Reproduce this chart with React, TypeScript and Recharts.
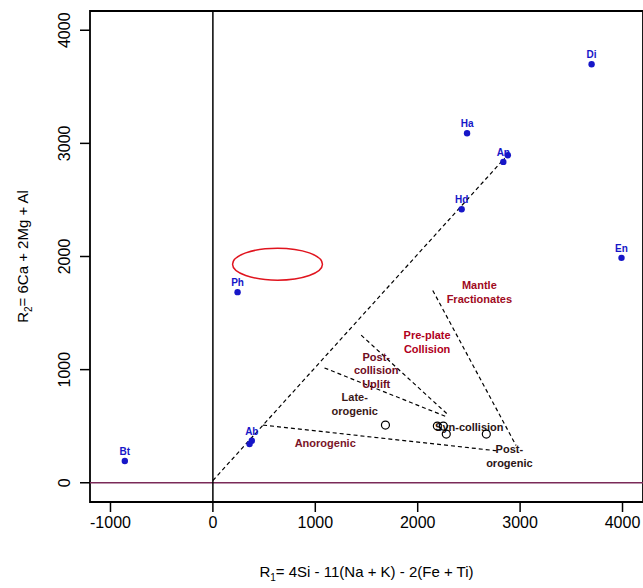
import React from "react"
import {
  ScatterChart,
  Scatter,
  XAxis,
  YAxis,
  ReferenceLine,
  ReferenceArea,
} from "recharts"

const xTicks = [-1000, 0, 1000, 2000, 3000, 4000]
const yTicks = [0, 1000, 2000, 3000, 4000]

// end-member minerals (blue); overlapping twins carry no label
const mineralNames = ["Bt", "Ab", "", "Ph", "Hd", "An", "", "Ha", "Di", "En"]
const mineralR1 = [-860, 380, 358, 241, 2429, 2836, 2880, 2482, 3698, 3990]
const mineralR2 = [192, 371, 342, 1685, 2418, 2836, 2895, 3090, 3699, 1988]

// samples (open circles)
const sampleR1 = [1685, 2192, 2250, 2279, 2670]
const sampleR2 = [510, 501, 501, 430, 430]

// dashed field boundaries [x1, y1, x2, y2]
const boundaries = [
  [0, 20, 2850, 2870],
  [490, 510, 2800, 280],
  [1090, 1015, 2290, 580],
  [1448, 1305, 2300, 598],
  [2147, 1700, 2960, 330],
]

// field names
const fieldText = [
  "Mantle|Fractionates",
  "Pre-plate|Collision",
  "Post-|collision|Uplift",
  "Late-|orogenic",
  "Anorogenic",
  "Syn-collision",
  "Post-|orogenic",
]
const fieldR1 = [2602, 2092, 1595, 1385, 1097, 2504, 2895]
const fieldR2 = [1745, 1305, 1113, 754, 353, 495, 298]
const fieldColor = ["#a00a22", "#b0001c", "#6e0c1e", "#3a1818", "#7a1428", "#2a1414", "#2a1414"]

// highlighted ellipse box
const ellipseR1 = [192, 1070]
const ellipseR2 = [1791, 2073]

const minerals = mineralNames.map((name, i) => ({ name, x: mineralR1[i], y: mineralR2[i] }))
const samples = sampleR1.map((x, i) => ({ x, y: sampleR2[i] }))
const fields = fieldText.map((t, i) => ({ t, x: fieldR1[i], y: fieldR2[i], c: fieldColor[i] }))

const blue = "#1616c8"

const MineralDot = (props: any) => {
  const { cx, cy, payload } = props
  return (
    <g>
      <circle cx={cx} cy={cy} r={3.2} fill={blue} />
      {payload.name && (
        <text x={cx} y={cy - 6} textAnchor="middle" fontSize={10} fontWeight="bold" fill={blue}>
          {payload.name}
        </text>
      )}
    </g>
  )
}

const SampleDot = (props: any) => (
  <circle cx={props.cx} cy={props.cy} r={4} fill="none" stroke="#000" strokeWidth={1.2} />
)

const FieldLabel = (props: any) => {
  const { cx, cy, payload } = props
  const lines = payload.t.split("|")
  return (
    <text x={cx} y={cy + 4} textAnchor="middle" fontSize={11} fontWeight="bold" fill={payload.c}>
      {lines.map((l: string, i: number) => (
        <tspan key={i} x={cx} dy={i === 0 ? 0 : 13.5}>
          {l}
        </tspan>
      ))}
    </text>
  )
}

const XTick = (props: any) => (
  <text x={props.x} y={props.y + 14} textAnchor="middle" fontSize={16} fill="#000">
    {props.payload.value}
  </text>
)

const YTick = (props: any) => {
  const bx = props.x - 8
  return (
    <text
      x={bx}
      y={props.y}
      transform={`rotate(-90, ${bx}, ${props.y})`}
      textAnchor="middle"
      fontSize={16}
      fill="#000"
    >
      {props.payload.value}
    </text>
  )
}

const XTitle = (props: any) => {
  const vb = props.viewBox || { x: 90, y: 502, width: 553, height: 86 }
  const cx = vb.x + vb.width / 2
  return (
    <text x={cx} y={vb.y + 75} textAnchor="middle" fontSize={15} fill="#000">
      R<tspan fontSize={10} dy={4}>1</tspan>
      <tspan dy={-4}>= 4Si - 11(Na + K) - 2(Fe + Ti)</tspan>
    </text>
  )
}

const YTitle = (props: any) => {
  const vb = props.viewBox || { x: 0, y: 11, width: 90, height: 491 }
  const cy = vb.y + vb.height / 2
  const bx = 28
  return (
    <text x={bx} y={cy} transform={`rotate(-90, ${bx}, ${cy})`} textAnchor="middle" fontSize={15} fill="#000">
      R<tspan fontSize={10} dy={4}>2</tspan>
      <tspan dy={-4}>= 6Ca + 2Mg + Al</tspan>
    </text>
  )
}

const EllipseShape = (props: any) => {
  const { x, y, width, height } = props
  return (
    <ellipse
      cx={x + width / 2}
      cy={y + height / 2}
      rx={Math.abs(width) / 2}
      ry={Math.abs(height) / 2}
      fill="none"
      stroke="#e0141e"
      strokeWidth={1.5}
    />
  )
}

export default function App() {
  return (
    <div
      style={{
        position: "fixed",
        left: 0,
        top: 0,
        width: 643,
        height: 588,
        overflow: "hidden",
        background: "#fff",
        fontFamily: '"Liberation Sans", Arial, sans-serif',
      }}
    >
      <ScatterChart width={660} height={588} margin={{ top: 11, right: 17, bottom: 0, left: 0 }}>
        <XAxis
          type="number"
          dataKey="x"
          domain={[-1200, 4200]}
          ticks={xTicks}
          allowDataOverflow
          axisLine={false}
          tickSize={10}
          tickLine={{ stroke: "#000", strokeWidth: 1.5 }}
          tick={<XTick />}
          height={86}
          label={<XTitle />}
        />
        <YAxis
          type="number"
          dataKey="y"
          domain={[-170, 4170]}
          ticks={yTicks}
          allowDataOverflow
          axisLine={false}
          tickSize={10}
          tickLine={{ stroke: "#000", strokeWidth: 1.5 }}
          tick={<YTick />}
          width={90}
          label={<YTitle />}
        />
        <ReferenceArea
          x1={-1200}
          x2={4200}
          y1={-170}
          y2={4170}
          fill="none"
          fillOpacity={0}
          stroke="#000"
          strokeWidth={1.8}
          ifOverflow="visible"
        />
        <ReferenceLine y={0} stroke="#7a2a58" strokeWidth={1.5} />
        <ReferenceLine x={0} stroke="#000" strokeWidth={1.5} />
        {boundaries.map((b, i) => (
          <ReferenceLine
            key={i}
            segment={[
              { x: b[0], y: b[1] },
              { x: b[2], y: b[3] },
            ]}
            stroke="#000"
            strokeWidth={1.2}
            strokeDasharray="4 3"
          />
        ))}
        <ReferenceArea
          x1={ellipseR1[0]}
          x2={ellipseR1[1]}
          y1={ellipseR2[0]}
          y2={ellipseR2[1]}
          shape={<EllipseShape />}
        />
        <Scatter data={fields} shape={<FieldLabel />} isAnimationActive={false} />
        <Scatter data={samples} shape={<SampleDot />} isAnimationActive={false} />
        <Scatter data={minerals} shape={<MineralDot />} isAnimationActive={false} />
      </ScatterChart>
    </div>
  )
}
